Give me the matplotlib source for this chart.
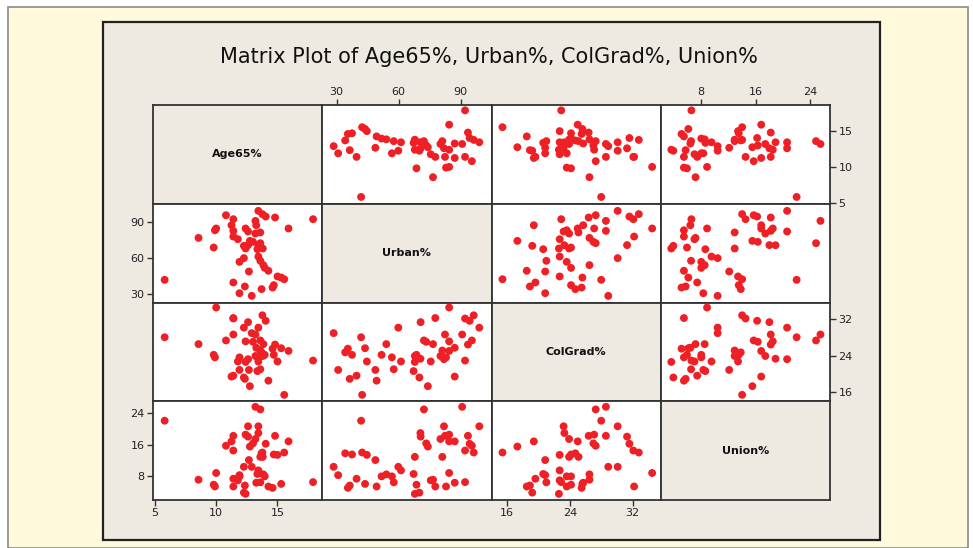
import matplotlib
matplotlib.use("Agg")
from matplotlib import pyplot as plt
from matplotlib.patches import Rectangle

# one value per state
age65 = [5.8, 8.56, 9.8, 9.9, 10.0, 10.8, 11.4, 11.25, 11.4, 11.4,
         11.77, 12.4, 12.6, 13.2, 13.27, 13.44, 13.77, 14.04, 14.8, 17.9,
         15.9, 13.2, 13.6, 12.26, 12.4, 12.6, 12.75, 13.0, 13.36, 13.6,
         13.44, 13.8, 13.44, 13.6, 12.26, 11.9, 13.85, 13.96, 14.26, 12.67,
         11.4, 12.34, 11.9, 12.9, 13.7, 14.6, 14.7, 15.0, 15.3, 15.55]
urban = [41.9, 76.7, 68.7, 83.0, 84.5, 95.5, 92.2, 87.2, 82.5, 77.8,
         75.6, 84.5, 82.0, 90.8, 87.2, 99.1, 96.4, 94.4, 93.6, 92.2,
         84.5, 80.3, 81.2, 70.1, 67.9, 70.7, 74.2, 73.4, 67.3, 72.3,
         70.6, 67.9, 61.2, 57.7, 59.9, 56.8, 54.1, 51.8, 49.4, 48.8,
         39.7, 36.4, 30.8, 28.6, 34.2, 35.5, 37.5, 44.7, 43.8, 42.4]
colgrad = [28.0, 26.5, 24.15, 23.6, 34.5, 27.3, 32.1, 19.4, 28.6, 32.2,
           22.7, 27.1, 23.2, 28.6, 25.7, 30.1, 32.8, 31.6, 26.4, 22.9,
           25.0, 23.9, 25.1, 19.2, 22.6, 31.3, 17.3, 27.0, 20.6, 27.3,
           23.3, 23.9, 22.7, 21.0, 30.1, 23.6, 26.5, 24.15, 18.5, 20.85,
           19.6, 18.9, 20.85, 28.9, 24.7, 25.5, 24.15, 22.7, 25.6, 15.4]
union = [22.0, 7.15, 5.9, 5.45, 8.85, 15.7, 14.5, 16.8, 18.2, 5.45,
         7.0, 18.5, 20.6, 25.5, 6.4, 20.6, 14.0, 16.2, 18.2, 6.55,
         16.8, 17.4, 12.9, 3.9, 3.6, 18.0, 15.5, 16.3, 8.6, 24.85,
         18.9, 12.9, 9.5, 6.5, 10.4, 8.0, 8.5, 8.0, 5.45, 12.1,
         7.4, 5.7, 8.3, 10.4, 13.8, 5.1, 13.5, 13.4, 6.1, 14.0]

names = ['Age65%', 'Urban%', 'ColGrad%', 'Union%']
cols = [age65, urban, colgrad, union]
lims = [(4.85, 18.65), (23.1, 105.0), (14.0, 35.6), (2.05, 26.9)]
ticks = [[5, 10, 15], [30, 60, 90], [16, 24, 32], [8, 16, 24]]

beige = '#eeeae1'
fig, axes = plt.subplots(4, 4, figsize=(9.73, 5.48), dpi=100)
fig.patch.set_facecolor('white')
fig.subplots_adjust(left=153/973, right=830/973, top=1-105/548, bottom=1-500/548,
                    wspace=0, hspace=0)

# cream outer frame and beige chart area
fig.patches.append(Rectangle((8/973, 0), 960/973, 541/548, transform=fig.transFigure,
                             facecolor='#fffadc', edgecolor='#8a8a8a', lw=1.2, zorder=-3))
fig.patches.append(Rectangle((103/973, 1-540/548), 777/973, 518/548, transform=fig.transFigure,
                             facecolor=beige, edgecolor='#222222', lw=1.6, zorder=-2))

for i in range(4):
    for j in range(4):
        ax = axes[i, j]
        ax.set_xlim(lims[j])
        ax.set_ylim(lims[i])
        for s in ax.spines.values():
            s.set_color('#333333')
            s.set_linewidth(1.3)
        ax.tick_params(which='both', bottom=False, top=False, left=False, right=False,
                       labelbottom=False, labeltop=False, labelleft=False, labelright=False)
        ax.set_xticks(ticks[j])
        ax.set_yticks(ticks[i])
        if i == j:
            ax.set_facecolor(beige)
            ax.text(0.5, 0.5, names[i], transform=ax.transAxes, ha='center', va='center',
                    fontsize=8, fontweight='bold', color='#111111')
        else:
            ax.set_facecolor('white')
            ax.scatter(cols[j], cols[i], s=32, color='#ee1f25', edgecolors='none', zorder=3)

tp = dict(direction='out', length=4, width=1, colors='#333333', labelsize=8,
          labelcolor='#222222', pad=2)
axes[3, 0].tick_params(bottom=True, labelbottom=True, **tp)
axes[3, 2].tick_params(bottom=True, labelbottom=True, **tp)
axes[0, 1].tick_params(top=True, labeltop=True, **tp)
axes[0, 3].tick_params(top=True, labeltop=True, right=True, labelright=True, **tp)
axes[1, 0].tick_params(left=True, labelleft=True, **tp)
axes[3, 0].tick_params(left=True, labelleft=True, **tp)
axes[2, 3].tick_params(right=True, labelright=True, **tp)

fig.text(489/973, 1-57/548, 'Matrix Plot of Age65%, Urban%, ColGrad%, Union%',
         ha='center', va='center', fontsize=15, color='#111111')

fig.savefig('out.png', dpi=100, facecolor=fig.get_facecolor())
